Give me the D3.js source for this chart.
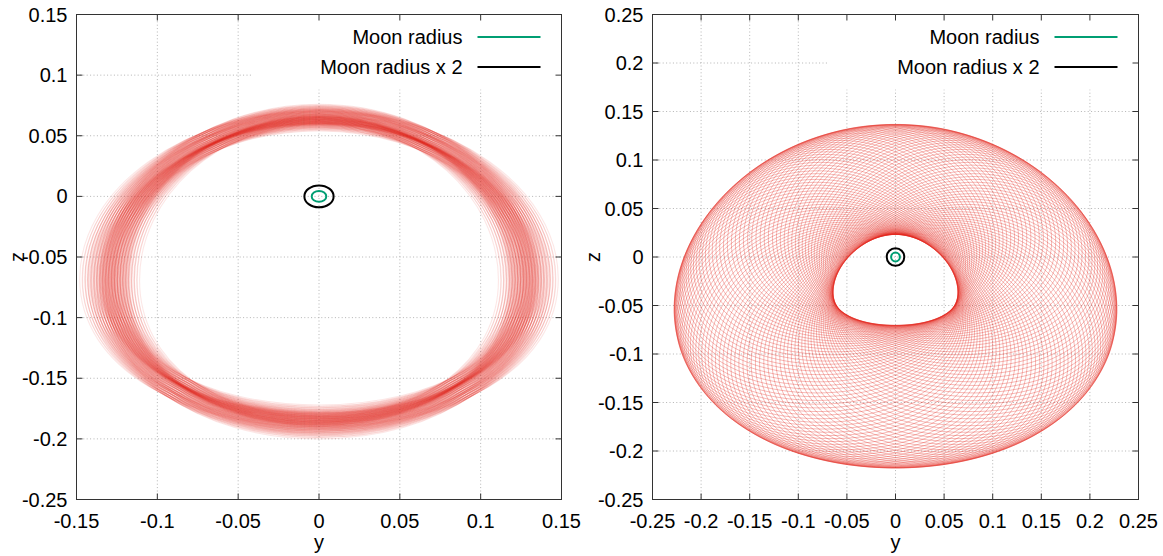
<!DOCTYPE html>
<html>
<head>
<meta charset="utf-8">
<script src="https://cdn.jsdelivr.net/npm/d3@7"></script>
<style>
  body { margin: 0; background: #fff; }
  svg text { font-family: "Liberation Sans", Arial, sans-serif; font-size: 20px; fill: #000; }
  .grid line { stroke: #b4b4b4; stroke-width: 1; stroke-dasharray: 1, 2.4; }
  .frame { fill: none; stroke: #333; stroke-width: 1; }
  .tick-mark { stroke: #333; stroke-width: 1; }
  .ring { fill: none; stroke: #e3241b; }
</style>
</head>
<body>
<svg id="chart" width="1163" height="556"></svg>
<script>
// axes
const leftDomainY = [-0.25, 0.15];
const leftDomainX = [-0.15, 0.15];
const rightDomain = [-0.25, 0.25];
const leftTicksX = [-0.15, -0.1, -0.05, 0, 0.05, 0.1, 0.15];
const leftTicksY = [-0.25, -0.2, -0.15, -0.1, -0.05, 0, 0.05, 0.1, 0.15];
const rightTicks = [-0.25, -0.2, -0.15, -0.1, -0.05, 0, 0.05, 0.1, 0.15, 0.2, 0.25];
const axisTitles = ["y", "z"];

// moon
const legendLabels = ["Moon radius", "Moon radius x 2"];
const moonRadius = [0.00452];
const moonFactors = [1, 2];

// left orbit: each revolution is a ring, sized by two slow oscillations
const leftRingBase = [0.1295, 0.1255, -0.0605, 0.008]; // half width, half height, centre z, side drop
const leftSizeAmp = [0.0105, 0.0085, -0.0005];
const leftShapeAmp = [0.008, -0.004, 0.001];
const leftSizeOsc = [-1, -0.86, -0.7, -0.55, -0.42, -0.34, -0.29, -0.25, -0.2, -0.12, 0, 0.14, 0.3, 0.44, 0.55, 0.7, 0.86, 1];
const leftShapeOsc = [-1, -0.78, -0.55, -0.33, -0.11, 0.11, 0.33, 0.55, 0.78, 1];

// right orbit: rings drifting round the hole
const rightRingBase = [0.146, 0.110, 0.114, 0.015]; // half width, top / bottom half height, side drop
const rightCenterY = [
  0.0810, 0.0809, 0.0806, 0.0800, 0.0792, 0.0782, 0.0770, 0.0756, 0.0740, 0.0722,
  0.0701, 0.0679, 0.0655, 0.0630, 0.0602, 0.0573, 0.0542, 0.0510, 0.0476, 0.0441,
  0.0405, 0.0368, 0.0329, 0.0290, 0.0250, 0.0210, 0.0168, 0.0127, 0.0085, 0.0042, 0,
  -0.0042, -0.0085, -0.0127, -0.0168, -0.0210, -0.0250, -0.0290, -0.0329, -0.0368, -0.0405,
  -0.0441, -0.0476, -0.0510, -0.0542, -0.0573, -0.0602, -0.0630, -0.0655, -0.0679, -0.0701,
  -0.0722, -0.0740, -0.0756, -0.0770, -0.0782, -0.0792, -0.0800, -0.0806, -0.0809, -0.0810,
  -0.0809, -0.0806, -0.0800, -0.0792, -0.0782, -0.0770, -0.0756, -0.0740, -0.0722, -0.0701,
  -0.0679, -0.0655, -0.0630, -0.0602, -0.0573, -0.0542, -0.0510, -0.0476, -0.0441, -0.0405,
  -0.0368, -0.0329, -0.0290, -0.0250, -0.0210, -0.0168, -0.0127, -0.0085, -0.0042, 0,
  0.0042, 0.0085, 0.0127, 0.0168, 0.0210, 0.0250, 0.0290, 0.0329, 0.0368, 0.0405,
  0.0441, 0.0476, 0.0510, 0.0542, 0.0573, 0.0602, 0.0630, 0.0655, 0.0679, 0.0701,
  0.0722, 0.0740, 0.0756, 0.0770, 0.0782, 0.0792, 0.0800, 0.0806, 0.0809,
];
const rightCenterZ = [
  -0.0300, -0.0266, -0.0232, -0.0198, -0.0165, -0.0132, -0.0099, -0.0067, -0.0036, -0.0005,
  0.0025, 0.0054, 0.0082, 0.0109, 0.0135, 0.0160, 0.0183, 0.0205, 0.0226, 0.0245,
  0.0263, 0.0279, 0.0294, 0.0307, 0.0318, 0.0328, 0.0336, 0.0342, 0.0346, 0.0349, 0.0350,
  0.0349, 0.0346, 0.0342, 0.0336, 0.0328, 0.0318, 0.0307, 0.0294, 0.0279, 0.0263,
  0.0245, 0.0226, 0.0205, 0.0183, 0.0160, 0.0135, 0.0109, 0.0082, 0.0054, 0.0025,
  -0.0005, -0.0036, -0.0067, -0.0099, -0.0132, -0.0165, -0.0198, -0.0232, -0.0266, -0.0300,
  -0.0334, -0.0368, -0.0402, -0.0435, -0.0468, -0.0501, -0.0533, -0.0564, -0.0595, -0.0625,
  -0.0654, -0.0682, -0.0709, -0.0735, -0.0760, -0.0783, -0.0805, -0.0826, -0.0845, -0.0863,
  -0.0879, -0.0894, -0.0907, -0.0918, -0.0928, -0.0936, -0.0942, -0.0946, -0.0949, -0.0950,
  -0.0949, -0.0946, -0.0942, -0.0936, -0.0928, -0.0918, -0.0907, -0.0894, -0.0879, -0.0863,
  -0.0845, -0.0826, -0.0805, -0.0783, -0.0760, -0.0735, -0.0709, -0.0682, -0.0654, -0.0625,
  -0.0595, -0.0564, -0.0533, -0.0501, -0.0468, -0.0435, -0.0402, -0.0368, -0.0334,
];
const rightRingScale = [
  1, 0.996, 0.992, 0.988, 0.984, 0.981, 0.977, 0.973, 0.969, 0.966,
  0.963, 0.959, 0.956, 0.953, 0.950, 0.947, 0.944, 0.942, 0.939, 0.937,
  0.935, 0.933, 0.931, 0.930, 0.929, 0.928, 0.927, 0.926, 0.925, 0.925, 0.925,
  0.925, 0.925, 0.926, 0.927, 0.928, 0.929, 0.930, 0.931, 0.933, 0.935,
  0.937, 0.939, 0.942, 0.944, 0.947, 0.950, 0.953, 0.956, 0.959, 0.963,
  0.966, 0.969, 0.973, 0.977, 0.981, 0.984, 0.988, 0.992, 0.996, 1,
  1.004, 1.008, 1.012, 1.016, 1.019, 1.023, 1.027, 1.031, 1.034, 1.037,
  1.041, 1.044, 1.047, 1.050, 1.053, 1.056, 1.058, 1.061, 1.063, 1.065,
  1.067, 1.069, 1.070, 1.071, 1.072, 1.073, 1.074, 1.075, 1.075, 1.075,
  1.075, 1.075, 1.074, 1.073, 1.072, 1.071, 1.070, 1.069, 1.067, 1.065,
  1.063, 1.061, 1.058, 1.056, 1.053, 1.050, 1.047, 1.044, 1.041, 1.037,
  1.034, 1.031, 1.027, 1.023, 1.019, 1.016, 1.012, 1.008, 1.004,
];

const tickLabel = (v) => String(+v.toFixed(2));

class OrbitPanel {
  constructor({ svg, frame, xDomain, yDomain, xTicks, yTicks, rings, ringStyle }) {
    this.svg = svg;
    this.frame = frame;
    this.xDomain = xDomain;
    this.yDomain = yDomain;
    this.xTicks = xTicks;
    this.yTicks = yTicks;
    this.rings = rings;
    this.ringStyle = ringStyle;
    this.init();
  }

  init() {
    const { left, right, top, bottom } = this.frame;
    this.x = d3.scaleLinear().domain(this.xDomain).range([left, right]);
    this.y = d3.scaleLinear().domain(this.yDomain).range([bottom, top]);
    // closed cardinal through the 4 extreme points; tension near -0.66 gives an ellipse
    this.ringLine = d3.line().curve(d3.curveCardinalClosed.tension(this.ringStyle.tension));
    this.g = this.svg.append("g");
    this.renderGrid();
    this.renderRings();
    this.renderMoon();
    this.renderLegend();
    this.renderFrame();
    this.renderLabels();
  }

  ringPath(r) {
    const { x, y } = this;
    const side = r.cz - (r.e || 0);
    return this.ringLine([
      [x(r.cy - r.a), y(side)],
      [x(r.cy), y(r.cz + r.bt)],
      [x(r.cy + r.a), y(side)],
      [x(r.cy), y(r.cz - r.bb)],
    ]);
  }

  renderGrid() {
    const { left, right, top, bottom } = this.frame;
    const grid = this.g.append("g").attr("class", "grid");
    grid
      .selectAll(".gx")
      .data(this.xTicks.slice(1, -1))
      .join("line")
      .attr("x1", (d) => this.x(d))
      .attr("x2", (d) => this.x(d))
      .attr("y1", top)
      .attr("y2", bottom);
    grid
      .selectAll(".gy")
      .data(this.yTicks.slice(1, -1))
      .join("line")
      .attr("x1", left)
      .attr("x2", right)
      .attr("y1", (d) => this.y(d))
      .attr("y2", (d) => this.y(d));
  }

  renderRings() {
    this.g
      .append("g")
      .selectAll("path")
      .data(this.rings)
      .join("path")
      .attr("class", "ring")
      .attr("stroke-width", this.ringStyle.width)
      .attr("stroke-opacity", this.ringStyle.opacity)
      .attr("d", (r) => this.ringPath(r));
  }

  renderMoon() {
    const colors = ["#009e73", "#000"];
    const moonLine = d3.line().curve(d3.curveCardinalClosed.tension(-0.657));
    this.g
      .append("g")
      .selectAll("path")
      .data(moonFactors)
      .join("path")
      .attr("fill", "none")
      .attr("stroke", (d, i) => colors[i])
      .attr("stroke-width", 2)
      .attr("d", (f) => {
        const r = moonRadius[0] * f;
        return moonLine([
          [this.x(-r), this.y(0)],
          [this.x(0), this.y(r)],
          [this.x(r), this.y(0)],
          [this.x(0), this.y(-r)],
        ]);
      });
  }

  renderLegend() {
    const { right, top } = this.frame;
    const colors = ["#009e73", "#000"];
    const key = this.g.append("g");
    key
      .append("rect")
      .attr("x", right - 310)
      .attr("y", top)
      .attr("width", 310)
      .attr("height", 75)
      .attr("fill", "#fff");
    const row = key
      .selectAll(".key-row")
      .data(legendLabels)
      .join("g")
      .attr("transform", (d, i) => `translate(0,${top + 22.5 + i * 30})`);
    row
      .append("text")
      .attr("x", right - 99)
      .attr("dy", 7)
      .attr("text-anchor", "end")
      .text((d) => d);
    row
      .append("line")
      .attr("x1", right - 84)
      .attr("x2", right - 21)
      .attr("stroke", (d, i) => colors[i])
      .attr("stroke-width", 2);
  }

  renderFrame() {
    const { left, right, top, bottom } = this.frame;
    const ticks = this.g.append("g");
    ticks
      .selectAll(".tx")
      .data(this.xTicks)
      .join("path")
      .attr("class", "tick-mark")
      .attr("d", (d) => {
        const px = this.x(d);
        return `M${px},${bottom}v-6M${px},${top}v6`;
      });
    ticks
      .selectAll(".ty")
      .data(this.yTicks)
      .join("path")
      .attr("class", "tick-mark")
      .attr("d", (d) => {
        const py = this.y(d);
        return `M${left},${py}h6M${right},${py}h-6`;
      });
    this.g
      .append("rect")
      .attr("class", "frame")
      .attr("x", left)
      .attr("y", top)
      .attr("width", right - left)
      .attr("height", bottom - top);
  }

  renderLabels() {
    const { left, right, top, bottom } = this.frame;
    const labels = this.g.append("g");
    labels
      .selectAll(".lx")
      .data(this.xTicks)
      .join("text")
      .attr("x", (d) => this.x(d))
      .attr("y", bottom + 28.5)
      .attr("text-anchor", "middle")
      .text(tickLabel);
    labels
      .selectAll(".ly")
      .data(this.yTicks)
      .join("text")
      .attr("x", left - 9)
      .attr("y", (d) => this.y(d) + 7)
      .attr("text-anchor", "end")
      .text(tickLabel);
    labels
      .append("text")
      .attr("x", (left + right) / 2)
      .attr("y", bottom + 49.5)
      .attr("text-anchor", "middle")
      .text(axisTitles[0]);
    labels
      .append("text")
      .attr("transform", `translate(${left - 58},${(top + bottom) / 2}) rotate(-90)`)
      .attr("dy", 5)
      .attr("text-anchor", "middle")
      .text(axisTitles[1]);
  }
}

const svg = d3.select("#chart");

const leftRings = d3.cross(leftSizeOsc, leftShapeOsc, (u, v) => {
  const a = leftRingBase[0] + u * leftSizeAmp[0] + v * leftShapeAmp[0];
  const b = leftRingBase[1] + u * leftSizeAmp[1] + v * leftShapeAmp[1];
  const cz = leftRingBase[2] + u * leftSizeAmp[2] + v * leftShapeAmp[2];
  return { cy: 0, cz, a, bt: b, bb: b, e: leftRingBase[3] };
});

const rightRings = rightCenterY.map((cy, i) => ({
  cy,
  cz: rightCenterZ[i],
  a: rightRingBase[0] * rightRingScale[i],
  bt: rightRingBase[1] * rightRingScale[i],
  bb: rightRingBase[2] * rightRingScale[i],
  e: rightRingBase[3],
}));

new OrbitPanel({
  svg,
  frame: { left: 76.5, right: 561.5, top: 14.5, bottom: 499.5 },
  xDomain: leftDomainX,
  yDomain: leftDomainY,
  xTicks: leftTicksX,
  yTicks: leftTicksY,
  rings: leftRings,
  ringStyle: { width: 1.1, opacity: 0.11, tension: -0.7 },
});

new OrbitPanel({
  svg,
  frame: { left: 652.5, right: 1138.5, top: 14.5, bottom: 499.5 },
  xDomain: rightDomain,
  yDomain: rightDomain,
  xTicks: rightTicks,
  yTicks: rightTicks,
  rings: rightRings,
  ringStyle: { width: 0.7, opacity: 0.45, tension: -0.66 },
});
</script>
</body>
</html>
